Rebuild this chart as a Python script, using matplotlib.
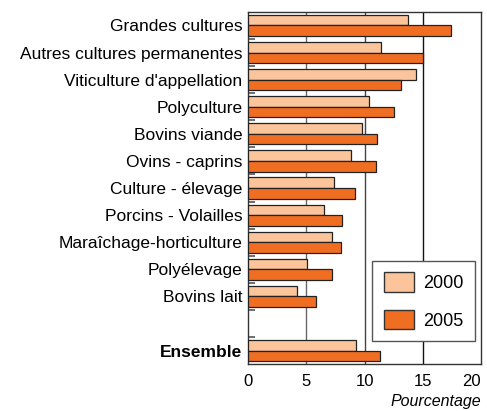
import numpy as np
import matplotlib
matplotlib.use("Agg")
import matplotlib.pyplot as plt
from matplotlib.patches import Patch

plt.rcParams['font.family'] = ['Liberation Sans', 'DejaVu Sans']

categories = ["Grandes cultures", "Autres cultures permanentes", "Viticulture d'appellation",
              "Polyculture", "Bovins viande", "Ovins - caprins", "Culture - élevage",
              "Porcins - Volailles", "Maraîchage-horticulture", "Polyélevage", "Bovins lait",
              "Ensemble"]
vals_2000 = [13.7, 11.4, 14.4, 10.4, 9.8, 8.8, 7.4, 6.5, 7.2, 5.1, 4.2, 9.25]
vals_2005 = [17.4, 15.0, 13.1, 12.5, 11.1, 11.0, 9.2, 8.1, 8.0, 7.2, 5.8, 11.3]
xticks = [0, 5, 10, 15, 20]

light = "#fbc49a"
dark = "#f06e22"

fig = plt.figure(figsize=(4.87, 4.11), dpi=100)
ax = fig.add_axes([0.509, 0.114, 0.479, 0.857])

# slot positions, with an empty slot before "Ensemble"
pos = np.array(list(range(11)) + [12], dtype=float)
h = 0.39
ax.barh(pos - h / 2, vals_2000, height=h, color=light, edgecolor="#222222", linewidth=0.9, label="2000", zorder=3)
ax.barh(pos + h / 2, vals_2005, height=h, color=dark, edgecolor="#222222", linewidth=0.9, label="2005", zorder=3)

ax.set_ylim(12.5, -0.5)
ax.set_xlim(0, 20)
for x, c in [(5, "#666666"), (10, "#444444"), (15, "#111111")]:
    ax.axvline(x, color=c, linewidth=1.0, zorder=1)

ax.set_yticks(pos)
ax.set_yticklabels(categories, fontsize=12.5)
ax.get_yticklabels()[-1].set_fontweight("bold")
ax.tick_params(axis="y", length=0, pad=4)
ax.set_yticks(np.arange(0.5, 12.5, 1.0), minor=True)
ax.tick_params(axis="y", which="minor", direction="in", length=5, color="#555555", width=1.2)

ax.set_xticks(xticks)
ax.set_xticklabels([str(t) for t in xticks], fontsize=12)
ax.get_xticklabels()[-1].set_horizontalalignment("right")
ax.tick_params(axis="x", length=0, pad=7)

for s in ax.spines.values():
    s.set_color("#333333")
    s.set_linewidth(1.0)

handles = [Patch(facecolor=light, edgecolor="#333333", label="2000"),
           Patch(facecolor=dark, edgecolor="#333333", label="2005")]
leg = ax.legend(handles=handles, loc="lower right", bbox_to_anchor=(0.974, 0.065),
                borderaxespad=0, fontsize=13, handlelength=1.67, handleheight=1.28,
                labelspacing=0.97, borderpad=0.65, handletextpad=0.5, fancybox=False,
                framealpha=1, edgecolor="#555555")
leg.get_frame().set_linewidth(1.0)

fig.text(0.988, 0.005, "Pourcentage", ha="right", va="bottom", fontsize=11.5, style="italic")

fig.savefig("out.png", dpi=100)
